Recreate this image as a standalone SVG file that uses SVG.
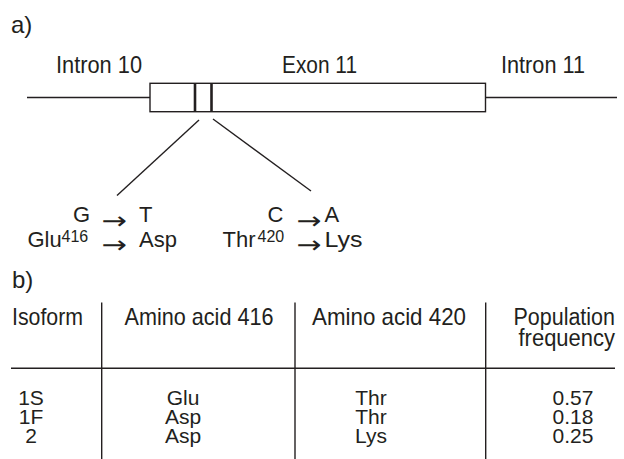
<svg xmlns="http://www.w3.org/2000/svg" width="624" height="459" viewBox="0 0 624 459">
<style>
text{font-family:"Liberation Sans",Arial,sans-serif;font-size:24px;fill:#231f20}
.s{font-size:22px}
.d{font-size:21px}
.p{font-size:23px}
.sup{font-size:16px}
.arr{font-family:"DejaVu Sans","Liberation Sans",sans-serif;font-size:24px}
.ln{stroke:#231f20;stroke-width:1.4;fill:none}
.bar{stroke:#231f20;stroke-width:2.6}
.m{text-anchor:middle}
.e{text-anchor:end}
</style>
<rect width="624" height="459" fill="#fff"/>
<g id="panel-a">
<text x="11" y="33">a)</text>
<g id="intron10"><text x="56" y="73" textLength="86" lengthAdjust="spacingAndGlyphs">Intron 10</text></g>
<g id="exon11"><text x="282" y="73" textLength="75" lengthAdjust="spacingAndGlyphs">Exon 11</text></g>
<g id="intron11"><text x="501" y="73" textLength="84" lengthAdjust="spacingAndGlyphs">Intron 11</text></g>
<g id="gene">
<line class="ln" x1="27" y1="97.5" x2="150" y2="97.5"/>
<rect class="ln" x="150" y="83.3" width="335.5" height="28.4"/>
<line class="ln" x1="485.5" y1="97.5" x2="617" y2="97.5"/>
<line class="bar" x1="195" y1="83.3" x2="195" y2="111.7"/>
<line class="bar" x1="211.5" y1="83.3" x2="211.5" y2="111.7"/>
</g>
<g id="connectors">
<line class="ln" x1="199" y1="120" x2="117" y2="195.5"/>
<line class="ln" x1="213" y1="119" x2="311" y2="191"/>
</g>
<g id="mut416">
<text class="s e" x="90" y="222">G</text>
<text class="arr" x="101.5" y="229" textLength="25.5" lengthAdjust="spacingAndGlyphs">→</text>
<text class="s" x="139" y="222">T</text>
<text class="s" x="27.5" y="247">Glu</text>
<text class="sup" x="61.5" y="241.7">416</text>
<text class="arr" x="101.5" y="252.5" textLength="25.5" lengthAdjust="spacingAndGlyphs">→</text>
<text class="s" x="139" y="247">Asp</text>
</g>
<g id="mut420">
<text class="s e" x="283.5" y="222">C</text>
<text class="arr" x="296.5" y="229" textLength="25" lengthAdjust="spacingAndGlyphs">→</text>
<text class="s" x="324.5" y="222">A</text>
<text class="s" x="222.5" y="247">Thr</text>
<text class="sup" x="257.5" y="241.7">420</text>
<text class="arr" x="296.5" y="252.5" textLength="25" lengthAdjust="spacingAndGlyphs">→</text>
<text class="s" x="324.5" y="247" textLength="38" lengthAdjust="spacingAndGlyphs">Lys</text>
</g>
</g>
<g id="panel-b">
<text x="12" y="288">b)</text>
<g id="table-lines">
<line class="ln" x1="101.7" y1="302.5" x2="101.7" y2="459"/>
<line class="ln" x1="295" y1="302.5" x2="295" y2="459"/>
<line class="ln" x1="485.7" y1="302.5" x2="485.7" y2="459"/>
<line class="ln" x1="11" y1="368.3" x2="615" y2="368.3"/>
</g>
<g id="header">
<text x="12" y="325" textLength="71" lengthAdjust="spacingAndGlyphs">Isoform</text>
<text x="124.5" y="325" textLength="149" lengthAdjust="spacingAndGlyphs">Amino acid 416</text>
<text x="312" y="325" textLength="154" lengthAdjust="spacingAndGlyphs">Amino acid 420</text>
<text class="p" x="513.5" y="325" textLength="101.5" lengthAdjust="spacingAndGlyphs">Population</text>
<text class="p" x="518.5" y="346" textLength="96.5" lengthAdjust="spacingAndGlyphs">frequency</text>
</g>
<g id="rows">
<text class="d m" x="31" y="405">1S</text>
<text class="d m" x="183" y="405">Glu</text>
<text class="d m" x="371" y="405">Thr</text>
<text class="d m" x="573" y="405">0.57</text>
<text class="d m" x="31" y="424">1F</text>
<text class="d m" x="183" y="424">Asp</text>
<text class="d m" x="371" y="424">Thr</text>
<text class="d m" x="573" y="424">0.18</text>
<text class="d m" x="31" y="443">2</text>
<text class="d m" x="183" y="443">Asp</text>
<text class="d m" x="371" y="443">Lys</text>
<text class="d m" x="573" y="443">0.25</text>
</g>
</g>
</svg>
